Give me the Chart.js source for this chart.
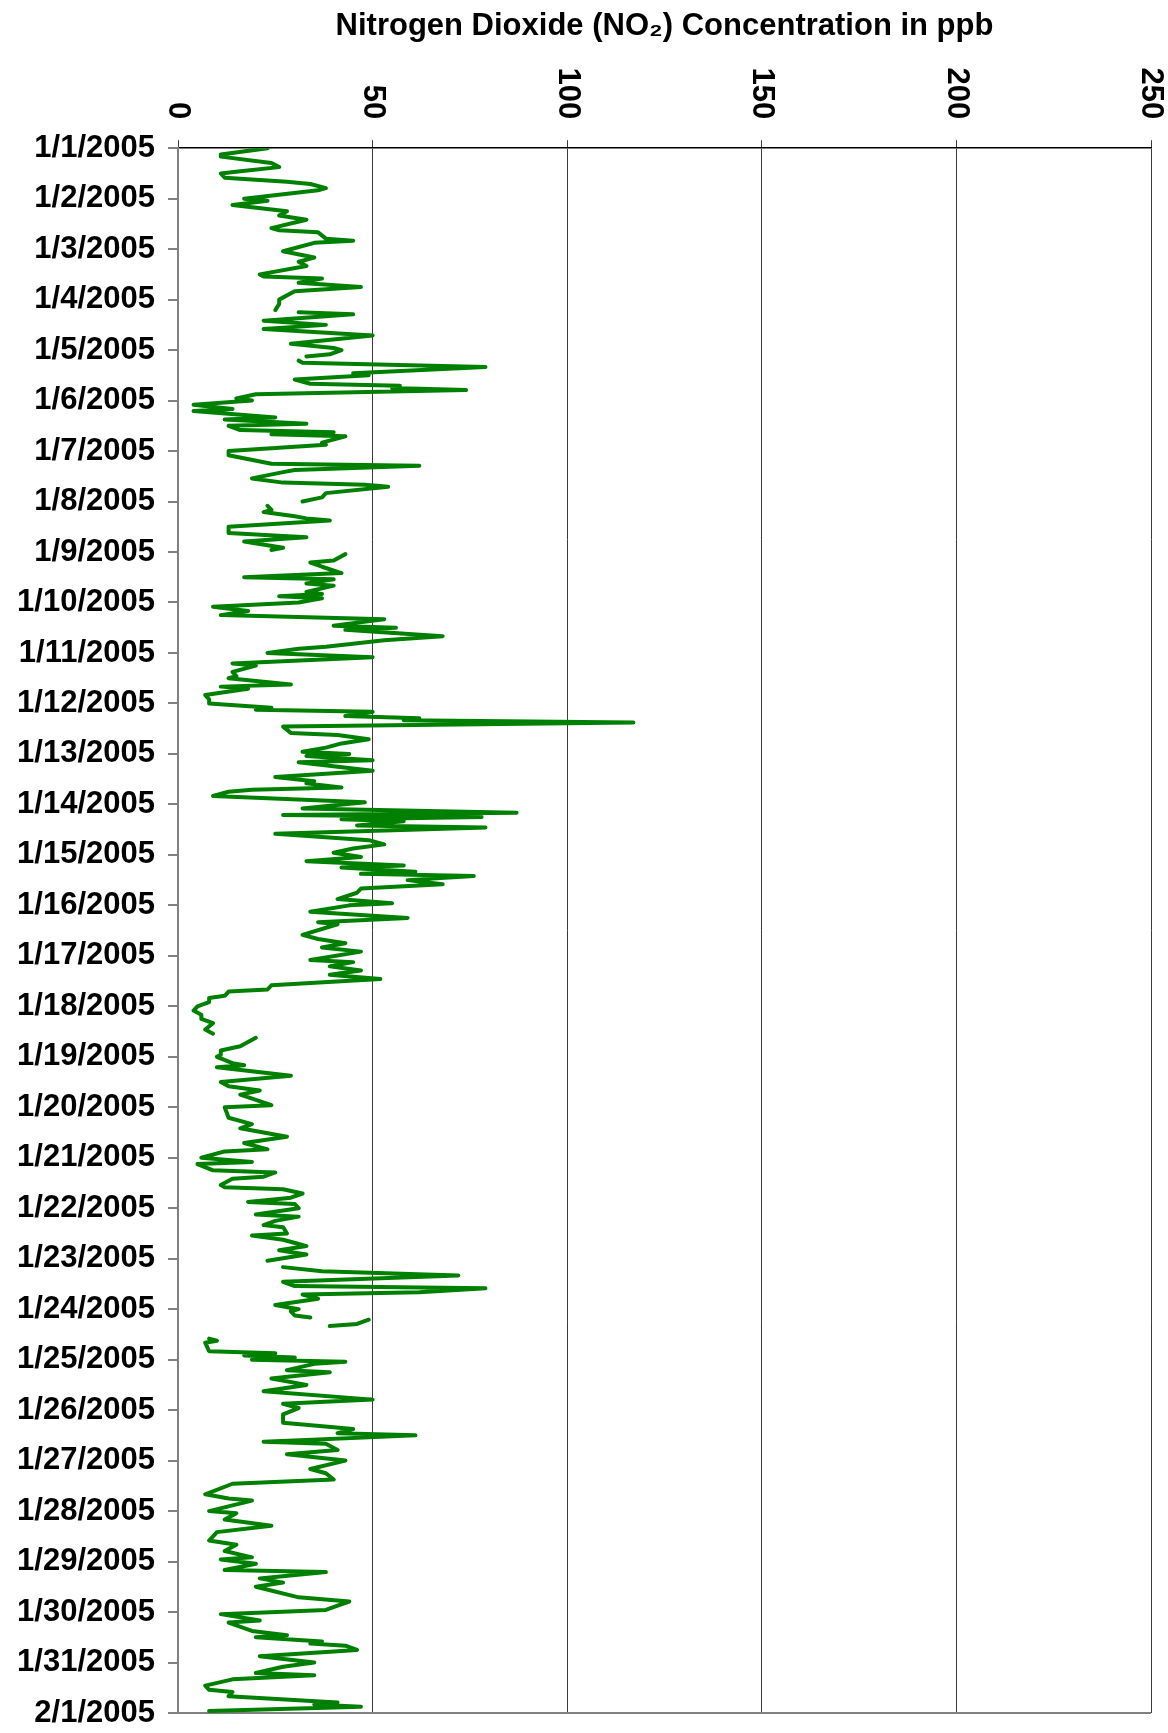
<!DOCTYPE html>
<html>
<head>
<meta charset="utf-8">
<script src="https://cdn.jsdelivr.net/npm/chart.js@4.4.1/dist/chart.umd.min.js"></script>
<style>
  body { margin: 0; background: #fff; }
  canvas { display: block; }
</style>
</head>
<body>
<canvas id="no2Chart" width="1168" height="1733"></canvas>
<script>
// dates on the vertical axis, one tick per day (24 h)
const dateLabels = ["1/1/2005", "1/2/2005", "1/3/2005", "1/4/2005", "1/5/2005", "1/6/2005", "1/7/2005", "1/8/2005",
  "1/9/2005", "1/10/2005", "1/11/2005", "1/12/2005", "1/13/2005", "1/14/2005", "1/15/2005", "1/16/2005",
  "1/17/2005", "1/18/2005", "1/19/2005", "1/20/2005", "1/21/2005", "1/22/2005", "1/23/2005", "1/24/2005",
  "1/25/2005", "1/26/2005", "1/27/2005", "1/28/2005", "1/29/2005", "1/30/2005", "1/31/2005", "2/1/2005"];
const ppbTicks = [0, 50, 100, 150, 200, 250];

// hours since 1/1/2005 00:00 and NO2 reading (ppb), null = missing data
const hours = [0, 3, 4, 7, 9, 11, 12, 14, 16, 17, 19, 20, 24, 25, 27, 30, 32, 34, 38, 39,
  40, 43, 44, 45, 49, 52, 54, 56, 60, 61, 62, 64, 66, 68, 69, 72, 74, 77, 77.5,
  78, 79, 82, 84, 86, 89, 93, 95, 96, 98, 99, 100,
  101, 102, 104, 107, 108, 110, 112, 113, 114, 115, 117, 119, 120, 122, 124, 125, 128, 129,
  131, 132, 134, 135, 136, 137, 140, 141, 144, 146, 150, 151, 153, 154, 157, 159, 160, 161,
  164, 166, 168, 169,
  170, 172, 173, 175, 176, 177, 180, 183, 185, 187, 190, 191, 192,
  193, 196, 197, 199, 202, 204, 205, 207, 208, 211, 212, 213, 214, 216, 218, 220, 222, 224,
  227, 228, 229, 232, 234, 237, 238, 240, 242, 245, 246, 249, 251, 252, 255, 256, 257, 260,
  262, 264, 266, 267, 268, 270, 271, 272, 273, 275, 278, 279, 281, 283, 285, 287, 288, 289,
  291, 292, 296, 299, 301, 302, 304, 305, 306, 308, 311, 314, 316, 317, 318, 319, 320, 322,
  323, 326, 329, 331, 333, 335, 337, 339, 341, 342, 344, 345, 346, 348, 350, 352, 354, 357,
  359, 360, 363, 366, 368, 369, 374, 376, 378, 380, 382, 386, 387, 389, 391, 393, 395, 398,
  400, 401, 403, 404, 406, 408, 410, 412, 414, 416, 419, 421, 422,
  423, 427, 429, 431, 432, 435, 436, 437, 441, 444, 446, 448, 450, 455, 456, 461, 464, 466,
  470, 473, 476, 477, 480, 482, 483, 486, 487, 489, 490, 493, 494, 495, 497, 499, 501, 502,
  504, 507, 508, 510, 512, 513, 516, 517, 519, 521, 522, 524, 526, 529, 530,
  532, 534, 536, 539, 541, 542, 544, 545, 547, 550, 552, 553, 555, 556, 556.5,
  557, 559, 560, 563,
  566, 567, 568, 572, 573, 574, 575, 576, 577, 578, 581, 582, 585, 588, 591, 595, 597, 599,
  602, 606, 609, 611, 612, 615, 616, 619, 621, 624, 628, 630, 633, 635, 640, 642, 643, 648,
  649, 652, 655, 658, 662, 664, 667, 670, 671, 673, 676, 677, 680, 682, 684, 689, 691, 693,
  695, 697, 700, 701, 705, 707, 708, 710, 711, 712, 714, 717, 720, 722, 725, 726, 728, 731,
  733, 734, 736, 739, 740, 741, 743];
const no2 = [23, 11, 11, 24, 26, 16, 11, 12, 28, 34, 38, 36, 17, 23, 14, 28, 26, 33, 24, 26,
  36, 38, 45, 35, 27, 35, 31, 33, 21, 22, 37, 31, 47, 30, 29, 26, 26, 25, null,
  31, 45, 22, 38, 22, 50, 29, 40, 42, 39, 33, null,
  31, 32, 79, 45, 49, 30, 34, 57, 55, 74, 20, 15, 19, 4, 14, 4, 25, 12,
  33, 13, 16, 40, 24, 43, 37, 38, 13, 13, 24, 62, 30, 27, 19, 27, 48, 54,
  38, 37, 32, null,
  23, 24, 22, 30, 33, 39, 13, 13, 33, 17, 27, 24, null,
  43, 40, 34, 37, 42, 17, 40, 33, 40, 33, 37, 26, 37, 31, 9, 18, 11, 53,
  40, 56, 43, 68, 53, 38, 31, 23, 50, 14, 20, 14, 15, 13, 29, 11, 18, 7,
  8, 8, 24, 20, 50, 43, 62, 58, 117, 27, 29, 41, 49, 42, 38, 32, 44, 33,
  50, 31, 50, 25, 35, 33, 42, 19, 13, 9, 48, 32, 87, 27, 78, 42, 58, 46,
  79, 25, 49, 53, 45, 40, 47, 33, 58, 42, 61, 47, 76, 59, 68, 47, 46, 41,
  55, 44, 34, 59, 36, 41, 32, 36, 43, 37, 47, 34, 45, 39, 47, 39, 52, 24,
  23, 13, 12, 8, 8, 5, 4, 6, 6, 9, 7, 9, null,
  20, 16, 11, 11, 10, 14, 17, 10, 29, 11, 13, 21, 16, 24, 12, 13, 19, 16,
  28, 17, 23, 12, 6, 19, 5, 9, 25, 22, 14, 11, 12, 27, 32, 29, 18, 30,
  31, 20, 31, 25, 22, 27, 28, 19, 27, 31, 33, 26, 33, 23, null,
  27, 37, 72, 27, 30, 79, 62, 32, 36, 25, 31, 29, 30, 34, null,
  49, 46, 39, null,
  8, 10, 7, 8, 25, 17, 30, 19, 43, 35, 28, 39, 24, 33, 22, 50, 27, 31,
  27, 27, 45, 41, 61, 22, 38, 41, 28, 43, 34, 38, 40, 14, 7, 13, 19, 8,
  15, 12, 24, 10, 8, 15, 12, 19, 11, 20, 12, 38, 21, 27, 20, 31, 44, 41,
  38, 11, 21, 13, 19, 28, 20, 37, 34, 43, 46, 21, 35, 27, 20, 35, 14, 7,
  8, 14, 13, 41, 35, 47, 8];

const points = hours.map((h, i) => ({ x: no2[i], y: h }));

// rotated ppb labels above the top axis (read top to bottom)
const topLabels = {
  id: "topLabels",
  afterDraw(chart) {
    const ctx = chart.ctx;
    const xs = chart.scales.x;
    ctx.save();
    ctx.font = "bold 31px 'Liberation Sans', Arial, sans-serif";
    ctx.fillStyle = "#000";
    ctx.textAlign = "right";
    ctx.textBaseline = "middle";
    ppbTicks.forEach(v => {
      ctx.save();
      ctx.translate(xs.getPixelForValue(v), chart.chartArea.top - 29);
      ctx.rotate(Math.PI / 2);
      ctx.fillText(String(v), 0, 0);
      ctx.restore();
    });
    ctx.restore();
  }
};

new Chart("no2Chart", {
  type: "line",
  data: {
    datasets: [{
      data: points,
      borderColor: "#008000",
      borderWidth: 4,
      borderJoinStyle: "round",
      borderCapStyle: "round",
      pointRadius: 0,
      spanGaps: false,
      tension: 0
    }]
  },
  options: {
    indexAxis: "y",
    responsive: false,
    animation: false,
    layout: { padding: { left: 0, right: 17, top: 0, bottom: 20 } },
    plugins: {
      legend: { display: false },
      tooltip: { enabled: false },
      title: {
        display: true,
        fullSize: false,
        text: "Nitrogen Dioxide (NO\u2082) Concentration in ppb",
        color: "#000",
        font: { family: "'Liberation Sans', Arial, sans-serif", size: 31, weight: "bold" },
        padding: { top: 8, bottom: 95 }
      }
    },
    scales: {
      x: {
        type: "linear",
        position: "top",
        min: 0,
        max: 250,
        ticks: { display: false, stepSize: 50 },
        grid: { color: "#3a3a3a", lineWidth: 1, tickLength: 8, tickColor: "#3a3a3a" },
        border: { color: "#000", width: 1.5 }
      },
      y: {
        type: "linear",
        reverse: true,
        min: 0,
        max: 744,
        afterFit: s => { s.width = 178; s.paddingTop = 0; s.paddingBottom = 0; },
        ticks: {
          stepSize: 24,
          autoSkip: false,
          padding: 13,
          color: "#000",
          font: { family: "'Liberation Sans', Arial, sans-serif", size: 31, weight: "bold" },
          callback: v => dateLabels[Math.round(v / 24)]
        },
        grid: {
          drawOnChartArea: true,
          color: c => (c.tick && c.tick.value === 744 ? "#808080" : "rgba(0,0,0,0)"),
          lineWidth: 2,
          tickLength: 10,
          tickColor: "#808080"
        },
        border: { color: "#808080", width: 2 }
      }
    }
  },
  plugins: [topLabels]
});
</script>
</body>
</html>
